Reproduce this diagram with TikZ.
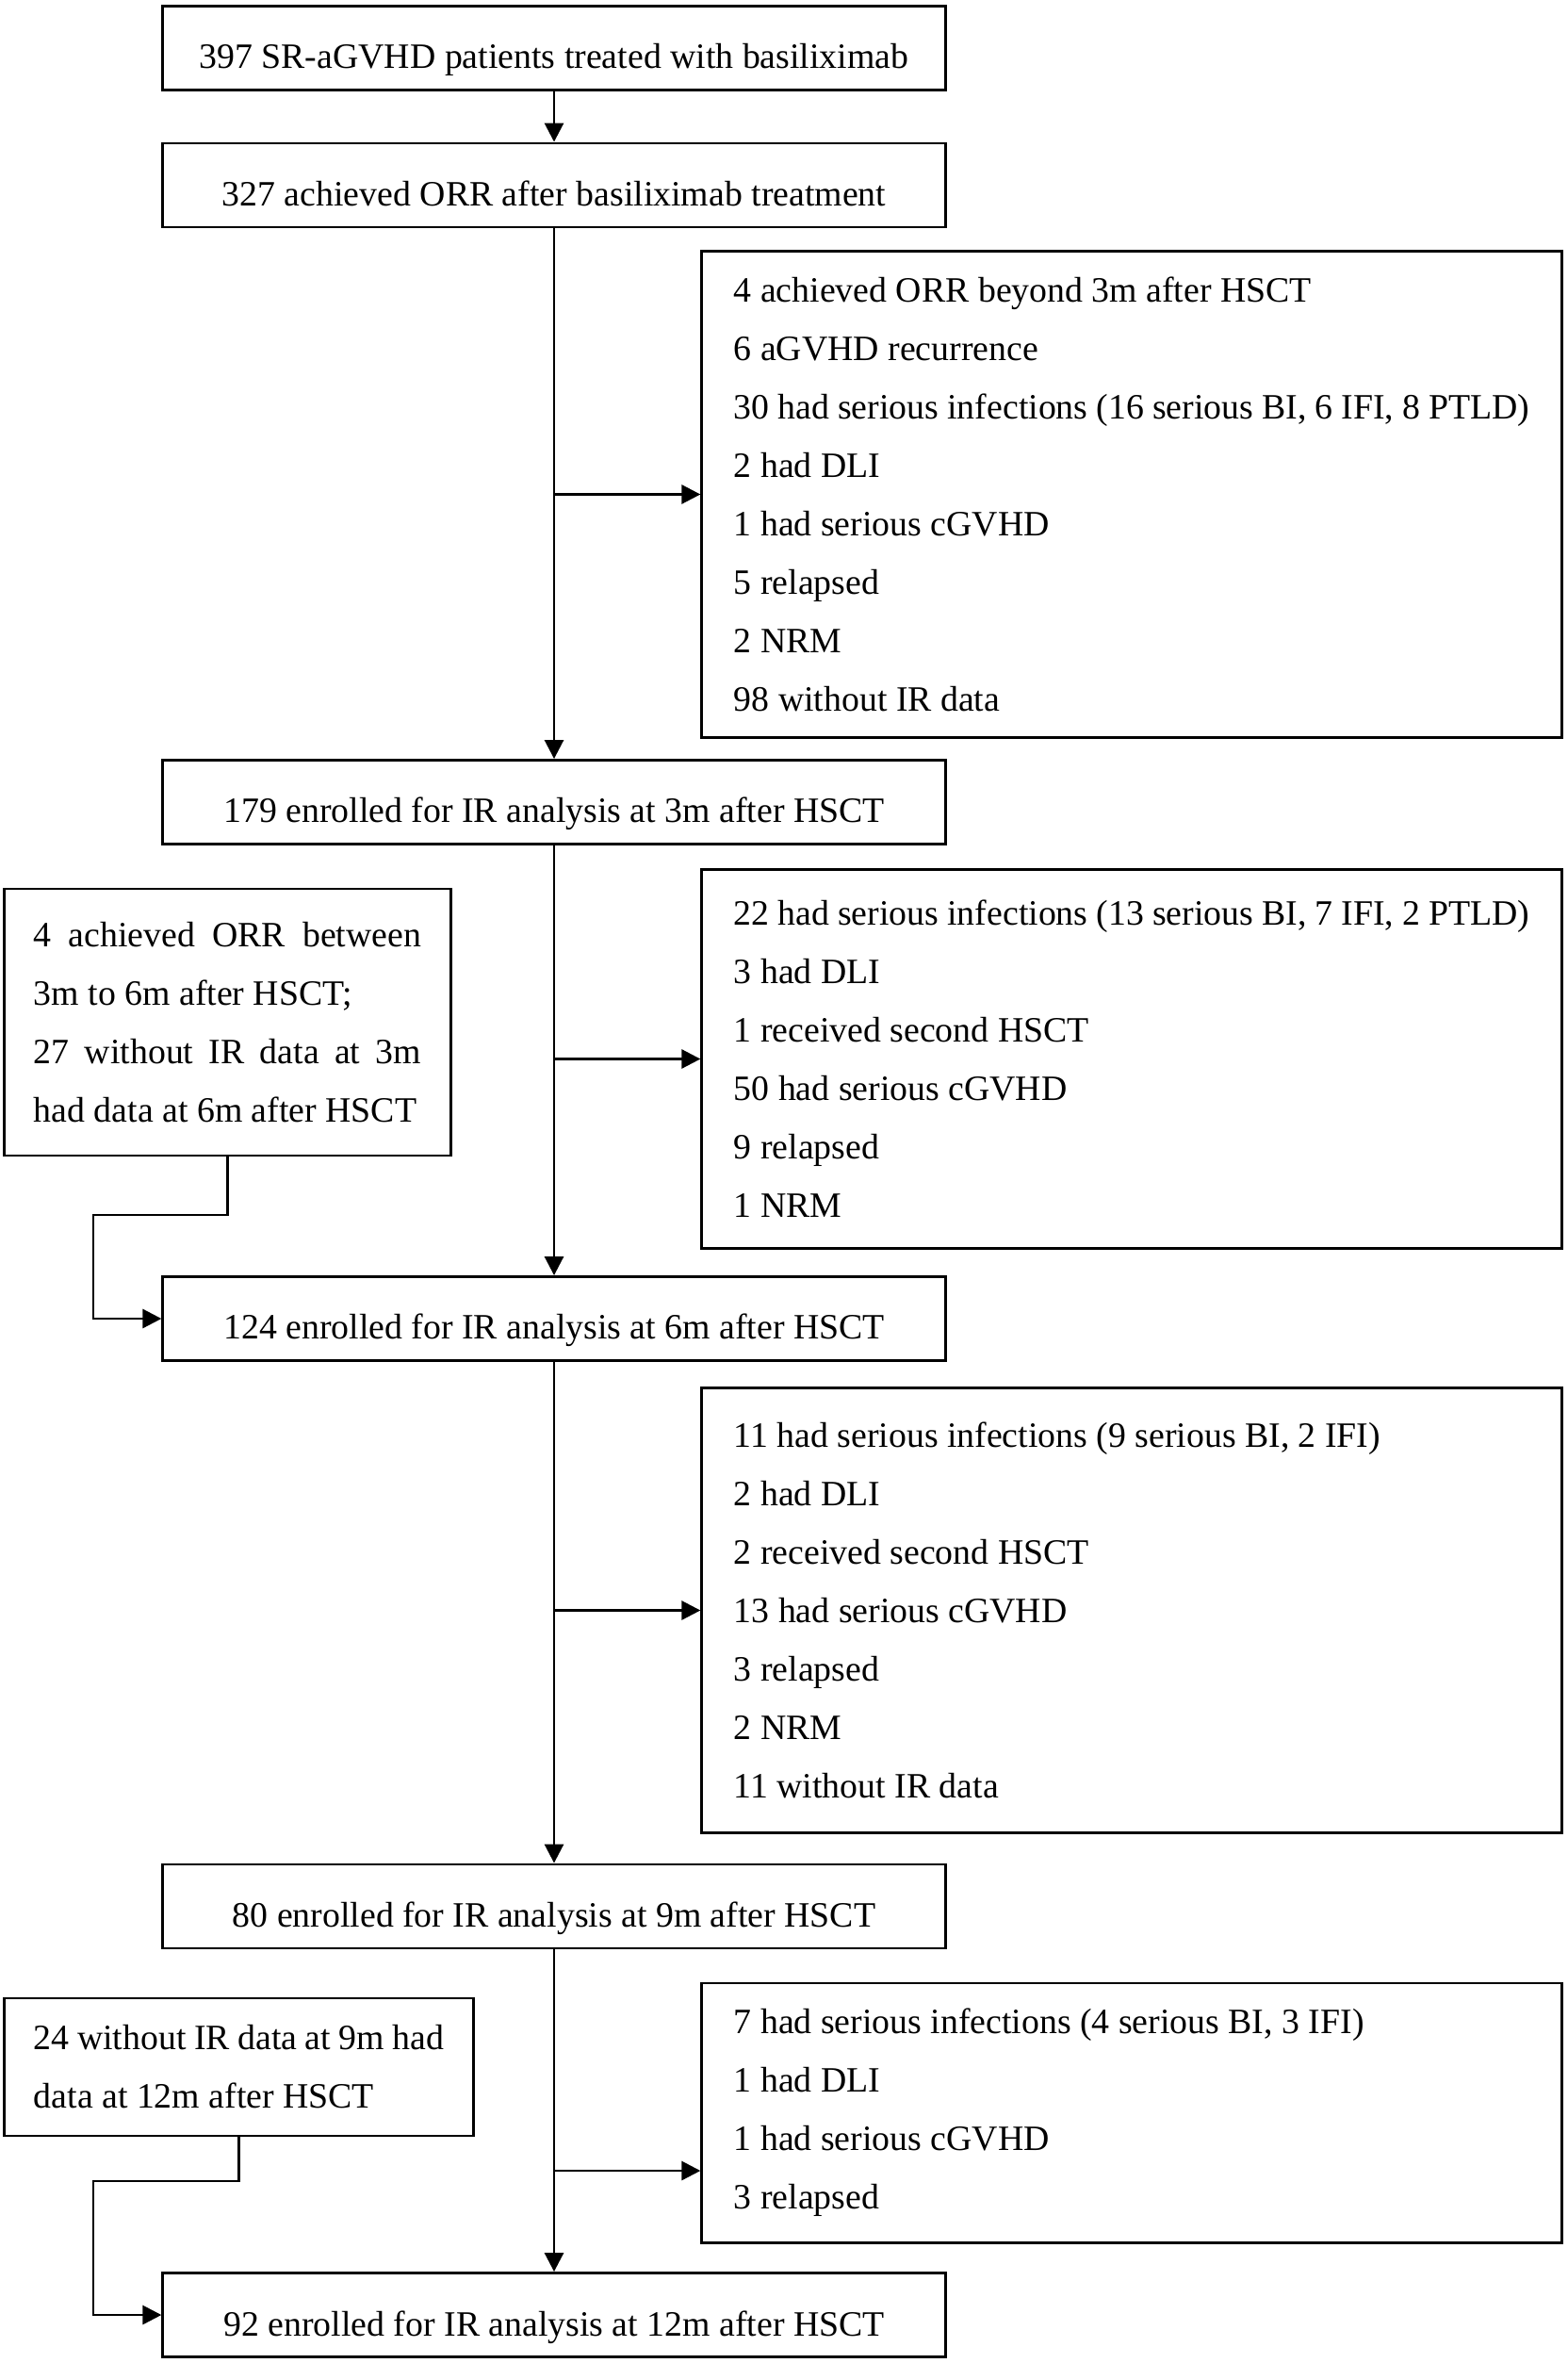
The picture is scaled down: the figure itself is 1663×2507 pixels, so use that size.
\documentclass[tikz,border=0pt]{standalone}
\usepackage{fontspec}
\setmainfont{Liberation Serif}
\usetikzlibrary{calc,arrows.meta}
\tikzset{
  stage/.style={draw,line width=0.8pt,minimum width=8.3cm,minimum height=0.89cm,inner sep=0pt,text height=12.5pt,text depth=0pt,font=\rowfont},
  excl/.style={draw,line width=0.8pt,text width=8.44cm,inner xsep=0.34cm,inner ysep=0pt,align=flush left,font=\rowfont},
  addin/.style={draw,line width=0.8pt,inner xsep=0.31cm,inner ysep=0pt,align=justify,font=\rowfont},
  flow/.style={line width=0.8pt,-{Triangle[length=0.2cm,width=0.2cm]}}
}
\newcommand\rowfont{\fontsize{10.75}{17.65}\selectfont}

\begin{document}
\begin{tikzpicture}[x=0.01cm,y=-0.01cm] % patient flow, 1 unit = 1px of the page

\useasboundingbox (0,0) rectangle (1663,2507);
\def\xm{588} % centre of the main column
\def\xr{1201} % centre of the right column
% main column
\node[stage] (n1) at (\xm,51) {397 SR-aGVHD patients treated with basiliximab};
\node[stage] (n2) at (\xm,196.5) {327 achieved ORR after basiliximab treatment};
\node[stage] (n3) at (\xm,851) {179 enrolled for IR analysis at 3m after HSCT};
\node[stage] (n4) at (\xm,1399) {124 enrolled for IR analysis at 6m after HSCT};
\node[stage] (n5) at (\xm,2022.5) {80 enrolled for IR analysis at 9m after HSCT};
\node[stage] (n6) at (\xm,2456) {92 enrolled for IR analysis at 12m after HSCT};
% excluded on the right
\node[excl,minimum height=5.15cm] (r1) at (\xr,524.5)
  {4 achieved ORR beyond 3m after HSCT\\ 6 aGVHD recurrence\\
   30 had serious infections (16 serious BI, 6 IFI, 8 PTLD)\\ 2 had DLI\\
   1 had serious cGVHD\\ 5 relapsed\\ 2 NRM\\ 98 without IR data};
\node[excl,minimum height=4.01cm] (r2) at (\xr,1123.5)
  {22 had serious infections (13 serious BI, 7 IFI, 2 PTLD)\\ 3 had DLI\\
   1 received second HSCT\\ 50 had serious cGVHD\\ 9 relapsed\\ 1 NRM};
\node[excl,minimum height=4.71cm] (r3) at (\xr,1708.5)
  {11 had serious infections (9 serious BI, 2 IFI)\\ 2 had DLI\\
   2 received second HSCT\\ 13 had serious cGVHD\\ 3 relapsed\\ 2 NRM\\ 11 without IR data};
\node[excl,minimum height=2.75cm] (r4) at (\xr,2241.5)
  {7 had serious infections (4 serious BI, 3 IFI)\\ 1 had DLI\\
   1 had serious cGVHD\\ 3 relapsed};
% added on the left
\node[addin,text width=4.11cm,minimum height=2.83cm] (lA) at (241.5,1084.5)
  {4 achieved ORR between\linebreak 3m to 6m after HSCT;\\
   27 without IR data at 3m\linebreak had data at 6m after HSCT};
\node[addin,text width=4.35cm,minimum height=1.46cm] (lB) at (253.5,2193)
  {24 without IR data at 9m had\linebreak data at 12m after HSCT};

% connectors
\draw[flow] (n1) -- (n2);
\draw[flow] (n2) -- (n3);
\draw[flow] (n3) -- (n4);
\draw[flow] (n4) -- (n5);
\draw[flow] (n5) -- (n6);
\coordinate (b1) at (n2.south |- r1.west);
\coordinate (b2) at (n3.south |- r2.west);
\coordinate (b3) at (n4.south |- r3.west);
\coordinate (b4) at (\xm,2303);
\draw[flow] (b1) -- (r1.west);
\draw[flow] (b2) -- (r2.west);
\draw[flow] (b3) -- (r3.west);
\draw[flow] (b4) -- (b4 -| r4.west);
\coordinate (k4) at (99,1289);
\coordinate (k6) at (99,2314);
\draw[flow] (lA.south) |- (k4) |- (n4.west);
\draw[flow] (lB.south) |- (k6) |- (n6.west);
\end{tikzpicture}
\end{document}
